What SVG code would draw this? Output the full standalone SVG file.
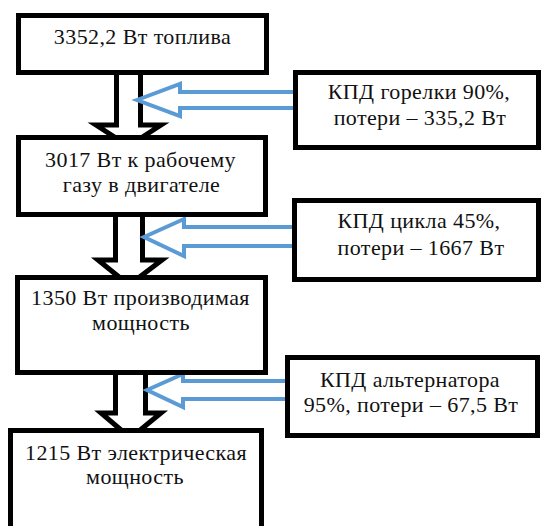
<svg xmlns="http://www.w3.org/2000/svg" width="543" height="526" viewBox="0 0 543 526">
<style>
.box{fill:#fff;stroke:#000;stroke-width:5}
.down{fill:#fff;stroke:#000;stroke-width:5;stroke-linejoin:miter}
.loss{fill:#fff;stroke:#5b9bd5;stroke-width:4;stroke-linejoin:miter}
text{font-family:"Liberation Serif","Times New Roman",serif;font-size:22px;letter-spacing:0.4px;fill:#111;text-anchor:middle}
</style>
<rect width="543" height="526" fill="#fff"/>
<g id="connectors">
<polygon class="down" points="116.5,72 140.5,72 140.5,125 161,125 128.5,146 96,125 116.5,125"/>
<polygon class="down" points="115.5,212 142.5,212 142.5,260 162,260 129,285 98,260 115.5,260"/>
<polygon class="down" points="115.5,370 145.5,370 145.5,413 161,413 130.5,438 101,413 115.5,413"/>
<polygon class="loss" points="137,100 180,84 180,92 296,92 296,108 180,108 180,116"/>
<polygon class="loss" points="144,237 184,219 184,227 295,227 295,246 184,246 184,256"/>
<polygon class="loss" points="147,390 183,374 183,381 288,381 288,399 183,399 183,407"/>
</g>
<g id="n1"><rect class="box" x="18.5" y="15.5" width="248" height="57"/><text x="142.5" y="44">3352,2 Вт топлива</text></g>
<g id="loss1"><rect class="box" x="295.5" y="72.5" width="243" height="75"/><text x="419" y="99">КПД горелки 90%,</text><text x="420" y="125">потери – 335,2 Вт</text></g>
<g id="n2"><rect class="box" x="18.5" y="137.5" width="247" height="77"/><text x="140.5" y="167">3017 Вт к рабочему</text><text x="141.5" y="192">газу в двигателе</text></g>
<g id="loss2"><rect class="box" x="294.5" y="200.5" width="244" height="79"/><text x="419" y="228">КПД цикла 45%,</text><text x="421" y="255">потери – 1667 Вт</text></g>
<g id="n3"><rect class="box" x="17.5" y="277.5" width="248" height="95"/><text x="140.5" y="305">1350 Вт производимая</text><text x="141" y="330">мощность</text></g>
<g id="loss3"><rect class="box" x="287.5" y="357.5" width="250" height="78"/><text x="410" y="387">КПД альтернатора</text><text x="411" y="412">95%, потери – 67,5 Вт</text></g>
<g id="n4"><rect class="box" x="10.5" y="430.5" width="251" height="100"/><text x="136" y="460">1215 Вт электрическая</text><text x="135" y="484">мощность</text></g>
</svg>
